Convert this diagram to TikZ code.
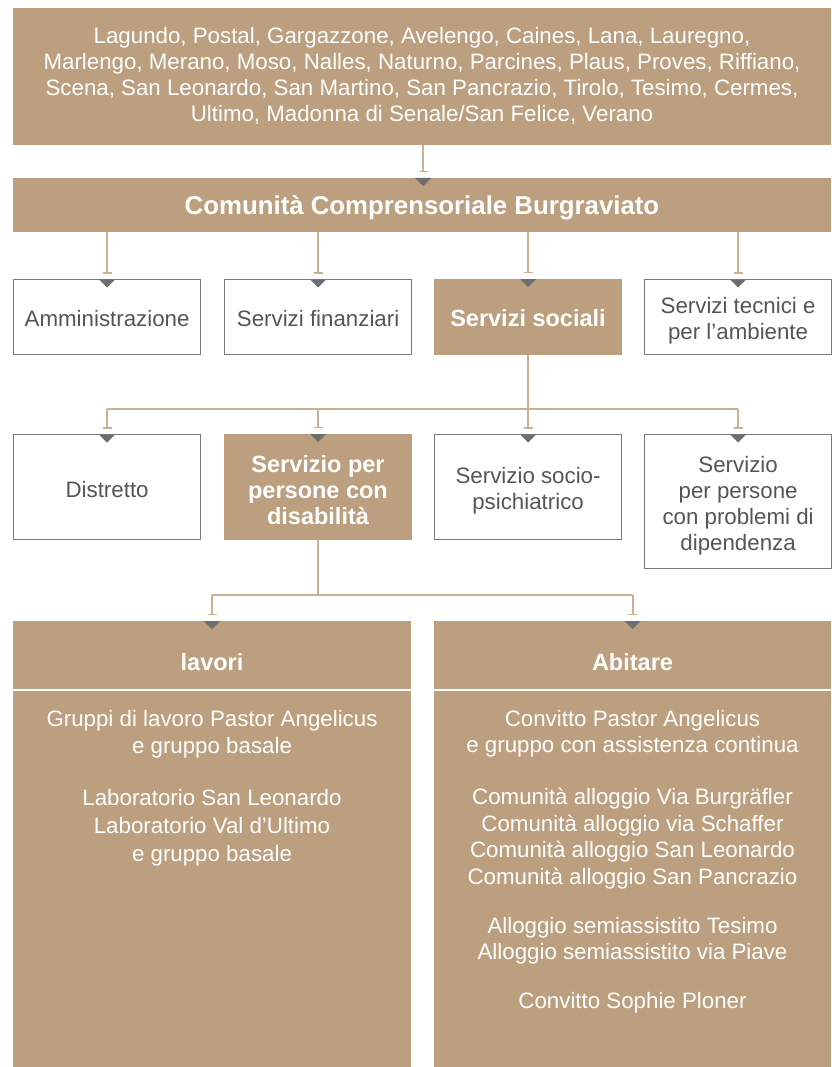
\documentclass[tikz,border=0pt]{standalone}
\usepackage{fontspec}
\setmainfont{Liberation Sans}
\usetikzlibrary{arrows.meta,calc}
\definecolor{tan}{HTML}{BB9F7E}
\definecolor{tanline}{HTML}{C9B193}
\definecolor{trigray}{HTML}{6E6E70}
\definecolor{bordergray}{HTML}{7A7A7A}
\definecolor{txtgray}{HTML}{555555}
\tikzset{
  base/.style={inner sep=0pt, outer sep=0pt, align=center, font=\fontsize{22.3}{26}\selectfont},
  boldf/.style={font=\fontsize{23.5}{26}\selectfont\bfseries},
  tanbox/.style={base, fill=tan, text=white},
  whitebox/.style={base, draw=bordergray, line width=1.2pt, fill=white, text=txtgray},
  wtxt/.style={base, text=txtgray},
  ttxt/.style={base, text=white},
  conn/.style={draw=tanline, line width=2pt, -{Bar[width=9pt,line width=1.2pt]}},
  plainline/.style={draw=tanline, line width=2pt},
}
\newcommand\intri[1]{\fill[trigray] ([xshift=-8pt]#1) -- ([xshift=8pt]#1) -- ([yshift=-8pt]#1) -- cycle;}
\begin{document}
\begin{tikzpicture}[x=1pt,y=-1pt]
\useasboundingbox (0,0) rectangle (831,1067);
% top box
\node[tanbox, minimum width=818pt, minimum height=137pt, anchor=north west,
  label={[ttxt, yshift=1pt]center:Lagundo, Postal, Gargazzone, Avelengo, Caines, Lana, Lauregno,\\Marlengo, Merano, Moso, Nalles, Naturno, Parcines, Plaus, Proves, Riffiano,\\Scena, San Leonardo, San Martino, San Pancrazio, Tirolo, Tesimo, Cermes,\\Ultimo, Madonna di Senale/San Felice, Verano}] (top) at (13,8) {};
% community bar
\node[tanbox, minimum width=818pt, minimum height=54pt, anchor=north west,
  label={[ttxt, font=\fontsize{25.8}{26}\selectfont\bfseries, yshift=-2.5pt]center:Comunità Comprensoriale Burgraviato}] (com) at (13,178) {};
% row 1
\node[whitebox, minimum width=187pt, minimum height=75pt, anchor=north west,
  label={[wtxt, yshift=-1pt]center:Amministrazione}] (amm) at (13.6,279.6) {};
\node[whitebox, minimum width=187pt, minimum height=75pt, anchor=north west,
  label={[wtxt, yshift=-1pt]center:Servizi finanziari}] (fin) at (224.6,279.6) {};
\node[tanbox, minimum width=188pt, minimum height=76pt, anchor=north west,
  label={[ttxt, boldf, yshift=-1pt]center:Servizi sociali}] (soc) at (434,279) {};
\node[whitebox, minimum width=187pt, minimum height=75pt, anchor=north west,
  label={[wtxt, yshift=-4pt]center:Servizi tecnici e\\per l’ambiente}] (tec) at (644.6,279.6) {};
% row 2
\node[whitebox, minimum width=187pt, minimum height=105pt, anchor=north west,
  label={[wtxt, yshift=-2pt]center:Distretto}] (dis) at (13.6,434.6) {};
\node[tanbox, minimum width=188pt, minimum height=106pt, anchor=north west,
  label={[ttxt, boldf, yshift=-3pt]center:Servizio per\\persone con\\disabilità}] (spd) at (224,434) {};
\node[whitebox, minimum width=187pt, minimum height=105pt, anchor=north west,
  label={[wtxt, yshift=-4pt]center:Servizio socio-\\psichiatrico}] (psi) at (434.6,434.6) {};
\node[whitebox, minimum width=187pt, minimum height=134pt, anchor=north west,
  label={[wtxt, yshift=-4pt]center:Servizio\\per persone\\con problemi di\\dipendenza}] (dip) at (644.6,434.6) {};
% row 3 headers
\node[tanbox, minimum width=398pt, minimum height=68pt, anchor=north west,
  label={[ttxt, boldf, yshift=-7pt]center:lavori}] (lav) at (13,621) {};
\node[tanbox, minimum width=397pt, minimum height=68pt, anchor=north west,
  label={[ttxt, boldf, yshift=-7pt]center:Abitare}] (abi) at (434,621) {};
% lower bodies
\node[tanbox, minimum width=398pt, minimum height=376pt, anchor=north west,
  label={[ttxt, anchor=north, font=\fontsize{22.3}{27.6}\selectfont, yshift=-19pt]north:Gruppi di lavoro Pastor Angelicus\\e gruppo basale\\[24.5pt]Laboratorio San Leonardo\\Laboratorio Val d’Ultimo\\e gruppo basale}] (lavb) at (13,691) {};
\node[tanbox, minimum width=397pt, minimum height=376pt, anchor=north west,
  label={[ttxt, anchor=north, font=\fontsize{22.3}{26.6}\selectfont, yshift=-19pt]north:Convitto Pastor Angelicus\\e gruppo con assistenza continua\\[25.4pt]Comunità alloggio Via Burgräfler\\Comunità alloggio via Schaffer\\Comunità alloggio San Leonardo\\Comunità alloggio San Pancrazio\\[22pt]Alloggio semiassistito Tesimo\\Alloggio semiassistito via Piave\\[21.8pt]Convitto Sophie Ploner}] (abib) at (434,691) {};
% connectors top -> com
\draw[conn] (top.south -| 423,0) -- ([yshift=6pt]com.north -| 423,0);
\intri{com.north -| 423,0}
% com -> row 1
\foreach \n in {amm,fin,soc,tec}{
  \draw[conn] (com.south -| \n.north) -- ([yshift=6pt]\n.north);
  \intri{\n.north}
}
% soc -> row 2
\draw[plainline] (soc.south) -- (soc.south |- 0,409);
\draw[plainline] (dis.north |- 0,409) -- (dip.north |- 0,409);
\foreach \n in {dis,spd,psi,dip}{
  \draw[conn] (\n.north |- 0,409) -- ([yshift=6pt]\n.north);
  \intri{\n.north}
}
% spd -> row 3
\draw[plainline] (spd.south) -- (spd.south |- 0,595);
\draw[plainline] (lav.north |- 0,595) -- (abi.north |- 0,595);
\foreach \n in {lav,abi}{
  \draw[conn] (\n.north |- 0,595) -- ([yshift=6pt]\n.north);
  \intri{\n.north}
}
\end{tikzpicture}
\end{document}
